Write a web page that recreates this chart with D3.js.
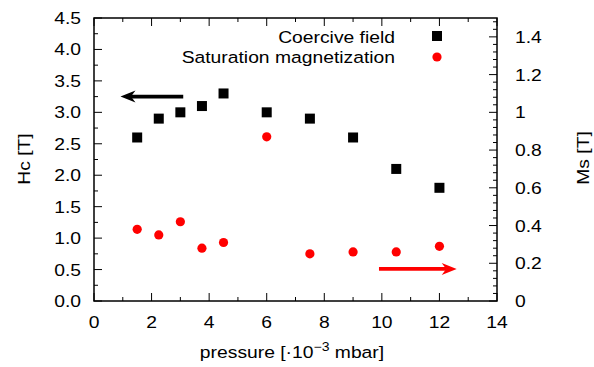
<!DOCTYPE html>
<html><head><meta charset="utf-8">
<script src="https://cdn.jsdelivr.net/npm/d3@7"></script>
<style>body{margin:0;background:#fff}text{font-family:"Liberation Sans",Arial,sans-serif;}</style>
</head><body>
<svg id="c" width="594" height="367"></svg>
<script>
const pressure = [1.5, 2.25, 3.0, 3.75, 4.5, 6.0, 7.5, 9.0, 10.5, 12.0];
const coerciveField = [2.6, 2.9, 3.0, 3.1, 3.3, 3.0, 2.9, 2.6, 2.1, 1.8];
const saturationMag = [0.38, 0.35, 0.42, 0.28, 0.31, 0.87, 0.25, 0.26, 0.26, 0.29];
const xTicks = [0, 2, 4, 6, 8, 10, 12, 14];
const yTicks = [0, 0.5, 1, 1.5, 2, 2.5, 3, 3.5, 4, 4.5];
const y2Ticks = [0, 0.2, 0.4, 0.6, 0.8, 1, 1.2, 1.4];
const seriesNames = ["Coercive field", "Saturation magnetization"];

const L = 94, R = 497, T = 18, B = 301;
const svg = d3.select("#c");
const x = d3.scaleLinear().domain([0, 14]).range([L, R]);
const y = d3.scaleLinear().domain([0, 4.5]).range([B, T]);
const y2 = d3.scaleLinear().domain([0, 1.5]).range([B, T]);
const fs = 16.5, sx = 1.17;

function txt(px, py, str, anchor, rot) {
  return svg.append("text")
    .attr("transform", `translate(${px},${py}) rotate(${rot || 0}) scale(${sx},1)`)
    .attr("text-anchor", anchor).attr("font-size", fs).text(str);
}

// frame
svg.append("rect").attr("x", L).attr("y", T).attr("width", R - L).attr("height", B - T)
  .attr("fill", "none").attr("stroke", "#000").attr("stroke-width", 1.5);

const tg = svg.append("g").attr("stroke", "#000").attr("stroke-width", 1);
d3.range(0, 14.01, 1).forEach(v => {
  const len = (v % 2 === 0) ? 8 : 4;
  tg.append("line").attr("x1", x(v)).attr("x2", x(v)).attr("y1", B).attr("y2", B - len);
  tg.append("line").attr("x1", x(v)).attr("x2", x(v)).attr("y1", T).attr("y2", T + len);
});
d3.range(0, 4.51, 0.25).forEach(v => {
  const len = (Math.abs(v * 2 - Math.round(v * 2)) < 1e-6) ? 8 : 4;
  tg.append("line").attr("x1", L).attr("x2", L + len).attr("y1", y(v)).attr("y2", y(v));
});
d3.range(0, 1.501, 0.04).forEach(v => {
  const isMaj = Math.abs(v * 5 - Math.round(v * 5)) < 1e-6;
  const len = isMaj ? 8 : 4;
  tg.append("line").attr("x1", R).attr("x2", R - len).attr("y1", y2(v)).attr("y2", y2(v));
});

// tick labels
xTicks.forEach(d => txt(x(d), B + 27, d, "middle"));
yTicks.forEach(d => txt(L - 13, y(d) + 6, d.toFixed(1), "end"));
y2Ticks.forEach(d => txt(R + 18, y2(d) + 6, d3.format("~g")(d), "start"));

// axis titles
txt(30, 159, "Hc [T]", "middle", -90);
txt(589, 158, "Ms [T]", "middle", -90);
const xt = svg.append("text")
  .attr("transform", `translate(292,358) scale(${sx},1)`)
  .attr("text-anchor", "middle").attr("font-size", fs);
xt.append("tspan").text("pressure [·10");
xt.append("tspan").attr("dy", -7).attr("font-size", 12).text("−3");
xt.append("tspan").attr("dy", 7).text(" mbar]");

// data
const sq = 10;
svg.append("g").selectAll("rect").data(pressure).join("rect")
  .attr("x", d => x(d) - sq / 2).attr("y", (d, i) => y(coerciveField[i]) - sq / 2)
  .attr("width", sq).attr("height", sq).attr("fill", "#000");
svg.append("g").selectAll("circle").data(pressure).join("circle")
  .attr("cx", d => x(d)).attr("cy", (d, i) => y2(saturationMag[i]))
  .attr("r", 4.6).attr("fill", "#ff0000");

// legend
txt(395, 43, seriesNames[0], "end");
txt(395, 63, seriesNames[1], "end");
svg.append("rect").attr("x", 437 - sq / 2).attr("y", 36 - sq / 2).attr("width", sq).attr("height", sq).attr("fill", "#000");
svg.append("circle").attr("cx", 437).attr("cy", 57).attr("r", 4.6).attr("fill", "#ff0000");

// arrows
function arrow(x1, x2, yy, color) {
  const dir = Math.sign(x2 - x1);
  const hl = 15, hw = 6;
  svg.append("line").attr("x1", x1).attr("x2", x2 - dir * hl * 0.7).attr("y1", yy).attr("y2", yy)
    .attr("stroke", color).attr("stroke-width", 3.8);
  svg.append("path")
    .attr("d", `M${x2},${yy} L${x2 - dir * hl},${yy - hw} L${x2 - dir * hl * 0.7},${yy} L${x2 - dir * hl},${yy + hw} Z`)
    .attr("fill", color);
}
arrow(x(3.1), x(0.92), y(3.25), "#000");
arrow(x(9.9), x(12.6), y2(0.17), "#ff0000");
</script>
</body></html>
